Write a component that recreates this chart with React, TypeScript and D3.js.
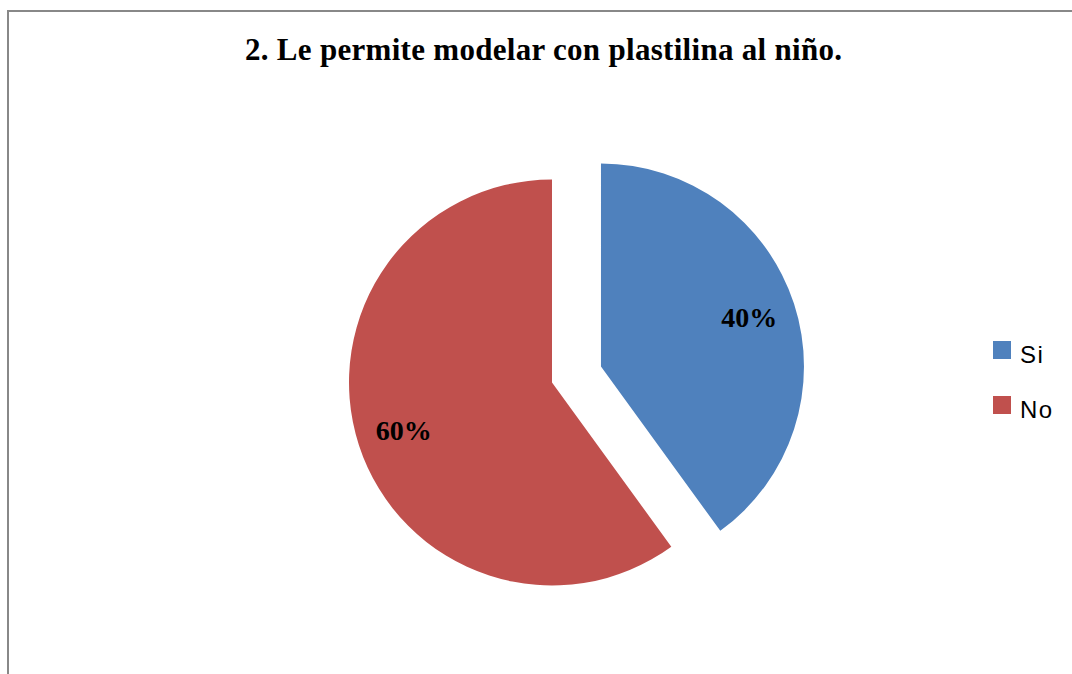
import React from "react";
import * as d3 from "d3";

const title = "2. Le permite modelar con plastilina al niño.";
const categories = ["Si", "No"];
const values = [40, 60];
const colors = ["#4F81BD", "#C0504D"];
const explode = [51.5, 0];

export default function App() {
  const W = 1072;
  const H = 674;
  const cx = 552;
  const cy = 382.5;
  const r = 203;
  const labelR = 156;
  const total = d3.sum(values);
  const pie = d3
    .pie<number>()
    .sort(null)
    .value((d) => d)
    .startAngle(0)
    .endAngle(2 * Math.PI);
  const arcs = pie(values);
  const arc = d3.arc<d3.PieArcDatum<number>>().innerRadius(0).outerRadius(r);
  const labelArc = d3
    .arc<d3.PieArcDatum<number>>()
    .innerRadius(labelR)
    .outerRadius(labelR);

  return (
    <svg
      width={W}
      height={H}
      style={{ position: "fixed", left: 0, top: 0, background: "#fff" }}
    >
      <rect x={0} y={0} width={W} height={H} fill="#fff" />
      <line x1={8} y1={11} x2={W} y2={11} stroke="#888" strokeWidth={2} />
      <line x1={8} y1={10} x2={8} y2={H} stroke="#888" strokeWidth={2} />
      <text
        x={543.5}
        y={59.5}
        textAnchor="middle"
        fontFamily="'Liberation Serif', 'Times New Roman', serif"
        fontWeight="bold"
        fontSize={31}
        textLength={597}
        lengthAdjust="spacing"
        fill="#000"
      >
        {title}
      </text>
      {arcs.map((a, i) => {
        const mid = (a.startAngle + a.endAngle) / 2;
        const dx = Math.sin(mid) * explode[i];
        const dy = -Math.cos(mid) * explode[i];
        const [lx, ly] = labelArc.centroid(a);
        return (
          <g key={categories[i]} transform={`translate(${cx + dx},${cy + dy})`}>
            <path d={arc(a) || ""} fill={colors[i]} />
            <text
              x={lx}
              y={ly}
              dy="0.32em"
              textAnchor="middle"
              fontFamily="'Liberation Serif', 'Times New Roman', serif"
              fontWeight="bold"
              fontSize={28}
              fill="#000"
            >
              {`${Math.round((values[i] / total) * 100)}%`}
            </text>
          </g>
        );
      })}
      {categories.map((c, i) => (
        <g key={c} transform={`translate(993,${341 + i * 55})`}>
          <rect x={0} y={0} width={18} height={18} fill={colors[i]} />
          <text
            x={27}
            y={21.5}
            fontFamily="'Liberation Sans', Arial, sans-serif"
            fontSize={24}
            letterSpacing={1.5}
            fill="#000"
          >
            {c}
          </text>
        </g>
      ))}
    </svg>
  );
}
